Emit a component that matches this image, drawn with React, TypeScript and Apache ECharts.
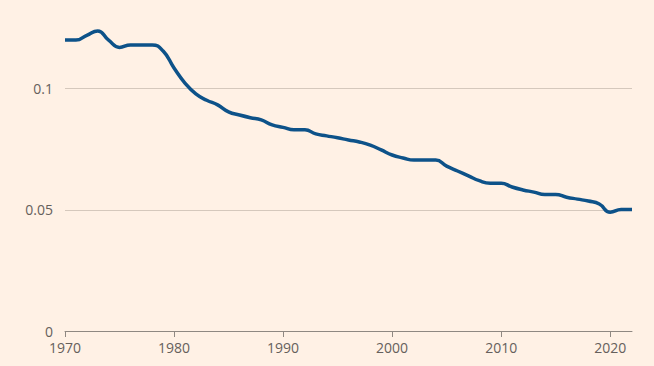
import React, { useEffect, useRef } from "react";
import * as echarts from "echarts";

const years: number[] = [
  1970, 1971, 1972, 1973, 1974, 1975, 1976, 1977, 1978, 1979,
  1980, 1981, 1982, 1983, 1984, 1985, 1986, 1987, 1988, 1989,
  1990, 1991, 1992, 1993, 1994, 1995, 1996, 1997, 1998, 1999,
  2000, 2001, 2002, 2003, 2004, 2005, 2006, 2007, 2008, 2009,
  2010, 2011, 2012, 2013, 2014, 2015, 2016, 2017, 2018, 2019,
  2020, 2021, 2022,
];
const values: number[] = [
  0.120, 0.120, 0.122, 0.1238, 0.120, 0.117, 0.118, 0.118, 0.118, 0.1155,
  0.1085, 0.1023, 0.0978, 0.0952, 0.0933, 0.0904, 0.0891, 0.0880, 0.0871, 0.0850,
  0.0840, 0.0830, 0.0830, 0.0813, 0.0805, 0.0797, 0.0788, 0.0780, 0.0767, 0.0747,
  0.0726, 0.0714, 0.0705, 0.0705, 0.0705, 0.0680, 0.0660, 0.0640, 0.0620, 0.0610,
  0.0610, 0.0594, 0.0582, 0.0573, 0.0563, 0.0563, 0.0552, 0.0544, 0.0536, 0.0524,
  0.0490, 0.0501, 0.0501,
];
const xTicks: number[] = [1970, 1980, 1990, 2000, 2010, 2020];
const yTicks: number[] = [0, 0.05, 0.1];
const gridValues: number[] = [0.05, 0.1];

export default function App() {
  const ref = useRef<HTMLDivElement>(null);
  useEffect(() => {
    if (!ref.current) return;
    const chart = echarts.init(ref.current, undefined, { renderer: "svg" });
    const labelColor = "#66605c";
    chart.setOption({
      animation: false,
      backgroundColor: "#fff1e5",
      grid: { left: 65, right: 22, top: 28, bottom: 35 },
      xAxis: {
        type: "value",
        min: 1970,
        max: 2022,
        interval: 10,
        splitLine: { show: false },
        axisLine: { show: true, lineStyle: { color: "#8f8882", width: 1 } },
        axisTick: {
          show: true,
          length: 6,
          customValues: xTicks,
          lineStyle: { color: "#8f8882" },
        },
        axisLabel: {
          customValues: xTicks,
          color: labelColor,
          fontSize: 14,
          lineHeight: 14,
          fontFamily: "Open Sans, sans-serif",
          margin: 9,
          formatter: (v: number) => String(v),
        },
      },
      yAxis: {
        type: "value",
        min: 0,
        max: 0.125,
        interval: 0.05,
        splitLine: { show: false },
        axisLine: { show: false },
        axisTick: { show: false },
        axisLabel: {
          customValues: yTicks,
          color: labelColor,
          fontSize: 14,
          lineHeight: 14,
          fontFamily: "Open Sans, sans-serif",
          margin: 12,
          formatter: (v: number) => String(v),
        },
      },
      series: [
        {
          type: "line",
          data: years.map((y, i) => [y, values[i]]),
          showSymbol: false,
          smooth: 0.5,
          lineStyle: { color: "#0d5289", width: 3.5 },
          itemStyle: { color: "#0d5289" },
          z: 5,
          markLine: {
            silent: true,
            symbol: "none",
            label: { show: false },
            lineStyle: { color: "#d5c8bc", width: 1, type: "solid" },
            data: gridValues.map((v) => ({ yAxis: v })),
            z: 1,
          },
        },
      ],
    });
    return () => chart.dispose();
  }, []);
  return (
    <div
      ref={ref}
      style={{ width: 654, height: 366, position: "fixed", left: 0, top: 0 }}
    />
  );
}
